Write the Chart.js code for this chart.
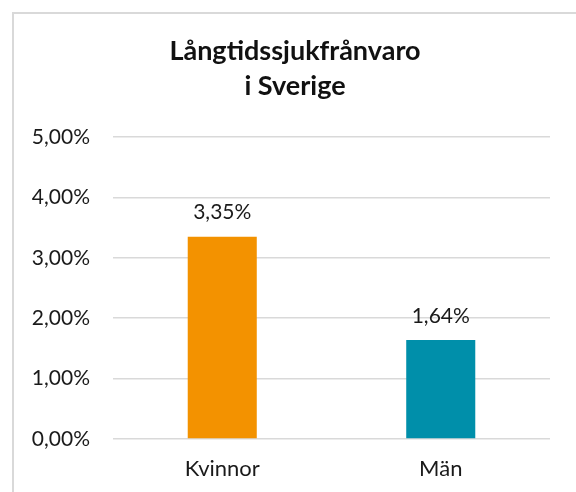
<!DOCTYPE html>
<html lang="sv">
<head>
<meta charset="utf-8">
<script src="https://cdn.jsdelivr.net/npm/chart.js@4"></script>
<style>
  html, body { margin: 0; padding: 0; background: #fff; }
  #wrap { position: relative; width: 576px; height: 492px; overflow: hidden; }
  #frame {
    position: absolute; left: 12px; top: 12px; width: 600px; height: 520px;
    border-top: 2px solid #d9d9d9; border-left: 2px solid #d9d9d9;
  }
  canvas { position: absolute; left: 0; top: 0; }
</style>
</head>
<body>
<div id="wrap">
  <div id="frame"></div>
  <canvas id="chart-sick-leave" width="576" height="492"></canvas>
</div>
<script>
// Långtidssjukfrånvaro per kön (procent)
const categories = ['Kvinnor', 'Män'];
const values = [3.35, 1.64];
const barColors = ['#f39200', '#008faa'];
const titleLines = ['Långtidssjukfrånvaro', 'i Sverige'];

const FONT = 'Lato, "Open Sans", "DejaVu Sans", sans-serif';

function fmtPct(v) {
    return v.toFixed(2).replace('.', ',') + '%';
}

// value above each bar
const barLabels = {
    id: 'barLabels',
    afterDatasetsDraw(chart) {
        const ctx = chart.ctx;
        const meta = chart.getDatasetMeta(0);
        ctx.save();
        ctx.font = '21px ' + FONT;
        ctx.fillStyle = '#1a1a1a';
        ctx.textAlign = 'center';
        ctx.textBaseline = 'middle';
        meta.data.forEach((bar, i) => {
            ctx.fillText(fmtPct(values[i]), bar.x, bar.y - 24);
        });
        ctx.restore();
    },
};

// title is centred on the whole chart frame (which runs past the right edge),
// not on the plot, so it is drawn here instead of by the title plugin
const frameTitle = {
    id: 'frameTitle',
    afterDraw(chart) {
        const ctx = chart.ctx;
        ctx.save();
        ctx.font = 'bold 27px ' + FONT;
        ctx.fillStyle = '#111';
        ctx.textAlign = 'center';
        ctx.textBaseline = 'alphabetic';
        titleLines.forEach((line, i) => {
            ctx.fillText(line, 295, 60 + i * 35);
        });
        ctx.restore();
    },
};

new Chart(document.getElementById('chart-sick-leave'), {
    type: 'bar',
    data: {
        labels: categories,
        datasets: [
            {
                label: 'Långtidssjukfrånvaro',
                data: values,
                backgroundColor: barColors,
                borderWidth: 0,
                categoryPercentage: 1,
                barPercentage: 0.316,
            },
        ],
    },
    options: {
        responsive: false,
        animation: false,
        layout: { padding: { left: 12, right: 26, top: 137, bottom: 0 } },
        plugins: {
            legend: { display: false },
            tooltip: { enabled: false },
            title: { display: false },
        },
        scales: {
            x: {
                grid: { display: false, drawTicks: false },
                border: { display: false },
                ticks: {
                    color: '#1a1a1a',
                    padding: 17,
                    font: { family: FONT, size: 22 },
                },
                afterFit: s => { s.height = 53; },
            },
            y: {
                min: 0,
                max: 5,
                grid: { color: '#d9d9d9', lineWidth: 1.5, drawTicks: false },
                border: { display: false },
                ticks: {
                    stepSize: 1,
                    color: '#1a1a1a',
                    padding: 23,
                    font: { family: FONT, size: 21 },
                    callback: v => fmtPct(v),
                },
                afterFit: s => { s.width = 101; },
            },
        },
    },
    plugins: [barLabels, frameTitle],
});
</script>
</body>
</html>
